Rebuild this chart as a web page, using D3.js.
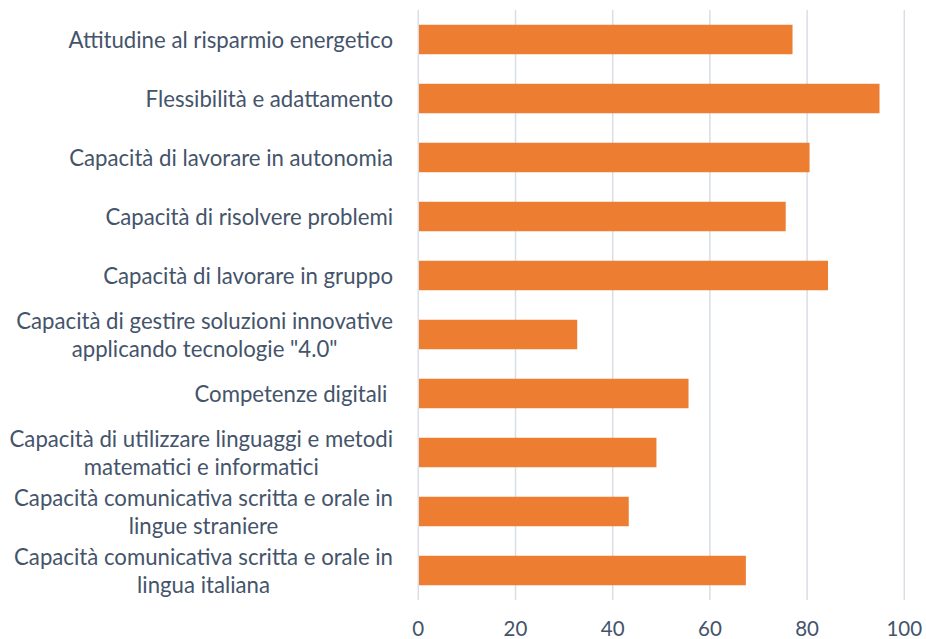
<!DOCTYPE html>
<html><head><meta charset="utf-8">
<script src="https://cdn.jsdelivr.net/npm/d3@7"></script>
<style>body{margin:0;background:#fff}</style>
</head><body>
<svg id="chart" width="926" height="639"></svg>
<script>
const categories = [
  "Attitudine al risparmio energetico",
  "Flessibilità e adattamento",
  "Capacità di lavorare in autonomia",
  "Capacità di risolvere problemi",
  "Capacità di lavorare in gruppo",
  "Capacità di gestire soluzioni innovative\napplicando tecnologie \"4.0\"",
  "Competenze digitali ",
  "Capacità di utilizzare linguaggi e metodi\nmatematici e informatici",
  "Capacità comunicativa scritta e orale in\nlingue straniere",
  "Capacità comunicativa scritta e orale in\nlingua italiana"
];
const values = [77.0, 94.9, 80.5, 75.6, 84.3, 32.7, 55.6, 49.0, 43.3, 67.4];
const tickValues = [0, 20, 40, 60, 80, 100];

(function () {
const svg = d3.select("#chart");
const mLeft = 418.3, mRight = 904.3, mTop = 10, mBottom = 600;
const textColor = "#44546a";
const font = "Lato, 'Open Sans', sans-serif";

const x = d3.scaleLinear().domain([0, 100]).range([mLeft, mRight]);
const y = d3.scaleBand().domain(categories).range([mTop, mBottom]).paddingInner(0.5).paddingOuter(0.25);

svg.append("g").selectAll("line").data(tickValues).join("line")
  .attr("x1", d => x(d)).attr("x2", d => x(d))
  .attr("y1", mTop).attr("y2", mBottom)
  .attr("stroke", "#d9dee6").attr("stroke-width", 1.5);

svg.append("g").selectAll("rect").data(categories).join("rect")
  .attr("x", x(0) + 0.7)
  .attr("y", d => y(d))
  .attr("width", (d, i) => x(values[i]) - x(0) - 0.7)
  .attr("height", y.bandwidth())
  .attr("fill", "#ed7d31");

svg.append("g").selectAll("text").data(tickValues).join("text")
  .attr("x", d => x(d)).attr("y", 636)
  .attr("text-anchor", "middle")
  .attr("font-family", font).attr("font-size", 20.5).attr("fill", textColor)
  .text(d => d);

const labelRight = 393;
const lineH = 28.5;
const lg = svg.append("g");
categories.forEach(cat => {
  const lines = cat.split("\n");
  const cy = y(cat) + y.bandwidth() / 2;
  const g = lg.append("g");
  const texts = lines.map((ln, j) => g.append("text")
    .attr("y", cy + (j - (lines.length - 1) / 2) * lineH)
    .attr("dominant-baseline", "central")
    .attr("font-family", font).attr("font-size", 22.2).attr("fill", textColor)
    .style("white-space", "pre")
    .text(ln));
  const widths = texts.map(t => t.node().getComputedTextLength());
  const maxW = d3.max(widths);
  const center = labelRight - maxW / 2;
  texts.forEach(t => t.attr("x", center).attr("text-anchor", "middle"));
});
})();
</script>
</body></html>
